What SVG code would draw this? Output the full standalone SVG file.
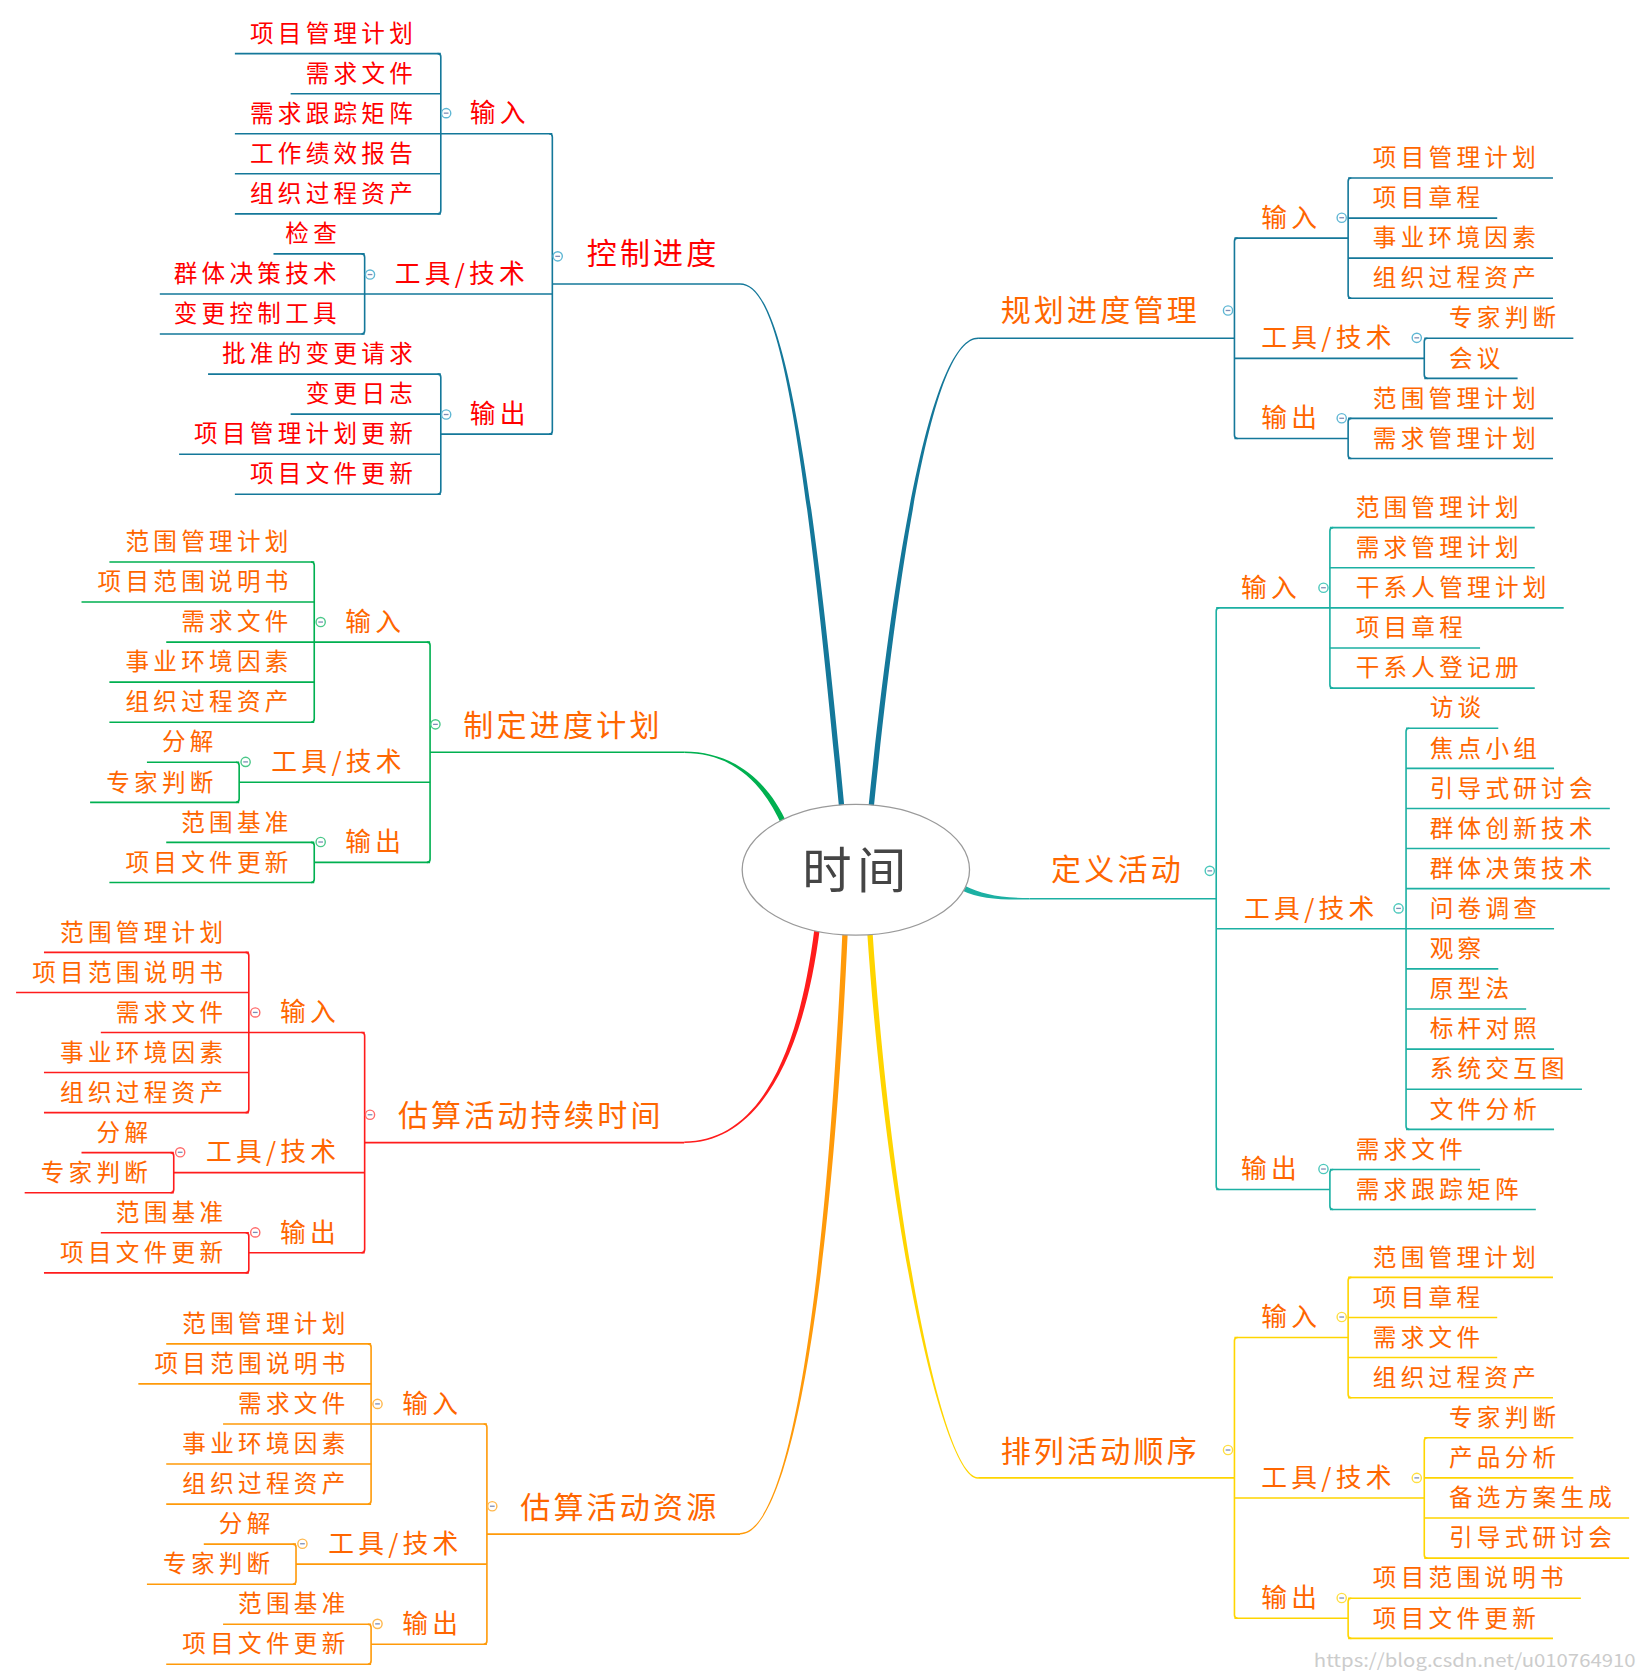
<svg xmlns="http://www.w3.org/2000/svg" width="1641" height="1676" viewBox="0 0 1641 1676">
<style>
text { font-family: "Noto Sans CJK SC", "Noto Sans CJK JP", sans-serif; }
.lf { font-size: 22px; letter-spacing: 4px; fill: #FF6600; }
.sb { font-size: 24px; letter-spacing: 4px; fill: #FF6600; }
.mn { font-size: 28px; letter-spacing: 3px; fill: #FF6600; }
.red { fill: #FF0000; }
.ln { fill: none; stroke-width: 1.5; }
.k1 { stroke: #14789A; }
.k3 { stroke: #00B050; }
.k4 { stroke: #1CB0A3; }
.k5 { stroke: #FF1C1C; }
.k6 { stroke: #FF9A0A; }
.k7 { stroke: #FFD500; }
</style>
<defs>
<g id="tg"><circle r="4.3" fill="#fff" stroke="currentColor" stroke-width="1.3"/><path d="M-2.2,0H2.2" stroke="#7D8DB5" stroke-width="1.2"/></g>
</defs>
<rect width="1641" height="1676" fill="#fff"/>
<g transform="scale(1.0725)">
<g id="connectors">
  <!-- main curves -->
  <path fill="#14789A" d="M690,264 C725,264 752.5,380 787.5,755 L782.5,755 C747.5,380 725,265.5 690,265.5 Z"/>
  <path fill="#14789A" d="M912,314.7 C880,314.7 842.5,430 809.5,755 L814.5,755 C847.5,430 880,316.2 912,316.2 Z"/>
  <path fill="#00B050" d="M638,700.7 C680,700.7 714.3,724 734.3,769 L729.7,771 C709.7,726 680,702.2 638,702.2 Z"/>
  <path fill="#1CB0A3" d="M960,837.3 C930,837.3 916.1,833.75 899.1,825.75 L896.9,830.25 C913.9,838.25 930,838.8 960,838.8 Z"/>
  <path fill="#FF1C1C" d="M638,1064.3 C700,1064.3 742.5,1000 759.5,865 L764.5,865 C747.5,1000 700,1065.8 638,1065.8 Z"/>
  <path fill="#FF9A0A" d="M690,1429.3 C735,1429.3 769.5,1220 785.5,868 L790.5,868 C774.5,1220 735,1430.8 690,1430.8 Z"/>
  <path fill="#FFD500" d="M912,1377.3 C880,1377.3 832.5,1150 813.5,868 L808.5,868 C827.5,1150 880,1378.8 912,1378.8 Z"/>

  <g id="c-b1" class="ln k1">
    <path d="M515,264.75 H690"/>
    <path d="M512,124.7 Q515,124.7 515,127.7 V401.8 Q515,404.8 512,404.8"/>
    <path d="M411,124.7 H515 M340,274.1 H515 M411,404.8 H515"/>
    <path d="M408,50 Q411,50 411,53 V196.4 Q411,199.4 408,199.4"/>
    <path d="M337,236.75 Q340,236.75 340,239.75 V308.45 Q340,311.45 337,311.45"/>
    <path d="M408,348.8 Q411,348.8 411,351.8 V457.85 Q411,460.85 408,460.85"/>
    <path d="M219,50 H411 M271,87.35 H411 M219,124.7 H411 M219,162.05 H411 M219,199.4 H411"/>
    <path d="M255,236.75 H340 M149,274.1 H340 M149,311.45 H340"/>
    <path d="M194,348.8 H411 M271,386.15 H411 M167,423.5 H411 M219,460.85 H411"/>
  </g>
  <g id="c-b2" class="ln k1">
    <path d="M912,315.4 H1151"/>
    <path d="M1154,222 Q1151,222 1151,225 V405.8 Q1151,408.8 1154,408.8"/>
    <path d="M1151,222 H1257 M1151,334.1 H1328 M1151,408.8 H1257"/>
    <path d="M1260,166 Q1257,166 1257,169 V275.05 Q1257,278.05 1260,278.05"/>
    <path d="M1331,315.4 Q1328,315.4 1328,318.4 V349.75 Q1328,352.75 1331,352.75"/>
    <path d="M1260,390.1 Q1257,390.1 1257,393.1 V424.45 Q1257,427.45 1260,427.45"/>
    <path d="M1257,166 H1448 M1257,203.35 H1396 M1257,240.7 H1448 M1257,278.05 H1448"/>
    <path d="M1328,315.4 H1467 M1328,352.75 H1415"/>
    <path d="M1257,390.1 H1448 M1257,427.45 H1448"/>
  </g>
  <g id="c-b3" class="ln k3">
    <path d="M401,701.4 H638"/>
    <path d="M398,598.7 Q401,598.7 401,601.7 V801.1 Q401,804.1 398,804.1"/>
    <path d="M293,598.7 H401 M223,729.4 H401 M293,804.1 H401"/>
    <path d="M290,524 Q293,524 293,527 V670.4 Q293,673.4 290,673.4"/>
    <path d="M220,710.75 Q223,710.75 223,713.75 V745.1 Q223,748.1 220,748.1"/>
    <path d="M290,785.45 Q293,785.45 293,788.45 V819.8 Q293,822.8 290,822.8"/>
    <path d="M102,524 H293 M76,561.35 H293 M155,598.7 H293 M102,636.05 H293 M102,673.4 H293"/>
    <path d="M137,710.75 H223 M84,748.1 H223"/>
    <path d="M155,785.45 H293 M102,822.8 H293"/>
  </g>
  <g id="c-b5" class="ln k5" transform="translate(-61,364)">
    <path d="M401,701.4 H699"/>
    <path d="M398,598.7 Q401,598.7 401,601.7 V801.1 Q401,804.1 398,804.1"/>
    <path d="M293,598.7 H401 M223,729.4 H401 M293,804.1 H401"/>
    <path d="M290,524 Q293,524 293,527 V670.4 Q293,673.4 290,673.4"/>
    <path d="M220,710.75 Q223,710.75 223,713.75 V745.1 Q223,748.1 220,748.1"/>
    <path d="M290,785.45 Q293,785.45 293,788.45 V819.8 Q293,822.8 290,822.8"/>
    <path d="M102,524 H293 M76,561.35 H293 M155,598.7 H293 M102,636.05 H293 M102,673.4 H293"/>
    <path d="M137,710.75 H223 M84,748.1 H223"/>
    <path d="M155,785.45 H293 M102,822.8 H293"/>
  </g>
  <g id="c-b6" class="ln k6" transform="translate(53,729)">
    <path d="M401,701.4 H637"/>
    <path d="M398,598.7 Q401,598.7 401,601.7 V801.1 Q401,804.1 398,804.1"/>
    <path d="M293,598.7 H401 M223,729.4 H401 M293,804.1 H401"/>
    <path d="M290,524 Q293,524 293,527 V670.4 Q293,673.4 290,673.4"/>
    <path d="M220,710.75 Q223,710.75 223,713.75 V745.1 Q223,748.1 220,748.1"/>
    <path d="M290,785.45 Q293,785.45 293,788.45 V819.8 Q293,822.8 290,822.8"/>
    <path d="M102,524 H293 M76,561.35 H293 M155,598.7 H293 M102,636.05 H293 M102,673.4 H293"/>
    <path d="M137,710.75 H223 M84,748.1 H223"/>
    <path d="M155,785.45 H293 M102,822.8 H293"/>
  </g>
  <g id="c-b4" class="ln k4">
    <path d="M960,838 H1134"/>
    <path d="M1137,566.8 Q1134,566.8 1134,569.8 V1106.1 Q1134,1109.1 1137,1109.1"/>
    <path d="M1134,566.8 H1240 M1134,866 H1311 M1134,1109.1 H1240"/>
    <path d="M1243,492 Q1240,492 1240,495 V638.6 Q1240,641.6 1243,641.6"/>
    <path d="M1314,679 Q1311,679 1311,682 V1050 Q1311,1053 1314,1053"/>
    <path d="M1243,1090.4 Q1240,1090.4 1240,1093.4 V1124.8 Q1240,1127.8 1243,1127.8"/>
    <path d="M1240,492 H1431 M1240,529.4 H1431 M1240,566.8 H1458 M1240,604.2 H1380 M1240,641.6 H1431"/>
    <path d="M1311,679 H1397 M1311,716.4 H1449 M1311,753.8 H1501 M1311,791.2 H1501 M1311,828.6 H1501 M1311,866 H1449 M1311,903.4 H1397 M1311,940.8 H1423 M1311,978.2 H1449 M1311,1015.6 H1475 M1311,1053 H1449"/>
    <path d="M1240,1090.4 H1380 M1240,1127.8 H1432"/>
  </g>
  <g id="c-b7" class="ln k7">
    <path d="M912,1378 H1151"/>
    <path d="M1154,1247.1 Q1151,1247.1 1151,1250.1 V1505.9 Q1151,1508.9 1154,1508.9"/>
    <path d="M1151,1247.1 H1257 M1151,1396.7 H1328 M1151,1508.9 H1257"/>
    <path d="M1260,1191 Q1257,1191 1257,1194 V1300.2 Q1257,1303.2 1260,1303.2"/>
    <path d="M1331,1340.6 Q1328,1340.6 1328,1343.6 V1449.8 Q1328,1452.8 1331,1452.8"/>
    <path d="M1260,1490.2 Q1257,1490.2 1257,1493.2 V1524.6 Q1257,1527.6 1260,1527.6"/>
    <path d="M1257,1191 H1448 M1257,1228.4 H1396 M1257,1265.8 H1396 M1257,1303.2 H1448"/>
    <path d="M1328,1340.6 H1467 M1328,1378 H1467 M1328,1415.4 H1519 M1328,1452.8 H1519"/>
    <path d="M1257,1490.2 H1474 M1257,1527.6 H1448"/>
  </g>
</g>

<g id="root">
  <ellipse cx="798" cy="811" rx="106" ry="61" fill="#fff" stroke="#9A9A9A" stroke-width="1.2"/>
  <text x="748" y="828" font-size="46" letter-spacing="5" fill="#454545">时间</text>
</g>

<!-- Branch 1: 控制进度 -->
<g id="b1">
  <g id="b1-main"><text class="mn red" x="547" y="246">控制进度</text><use href="#tg" x="520" y="239" style="color:#5FB7D4"/></g>
  <g id="b1-in"><text class="sb red" x="438" y="114.2">输入</text><use href="#tg" x="416" y="105.5" style="color:#5FB7D4"/></g>
  <g id="b1-tool"><text class="sb red" x="368" y="263.6">工具/技术</text><use href="#tg" x="345" y="256" style="color:#5FB7D4"/></g>
  <g id="b1-out"><text class="sb red" x="438" y="394.3">输出</text><use href="#tg" x="416" y="386.5" style="color:#5FB7D4"/></g>
  <g id="b1-leaves" class="lf red">
    <g id="b1-l1"><text class="lf red" x="233" y="39">项目管理计划</text></g>
    <g id="b1-l2"><text class="lf red" x="285" y="76.35">需求文件</text></g>
    <g id="b1-l3"><text class="lf red" x="233" y="113.7">需求跟踪矩阵</text></g>
    <g id="b1-l4"><text class="lf red" x="233" y="151">工作绩效报告</text></g>
    <g id="b1-l5"><text class="lf red" x="233" y="188.4">组织过程资产</text></g>
    <g id="b1-l6"><text class="lf red" x="266" y="225.75">检查</text></g>
    <g id="b1-l7"><text class="lf red" x="162" y="263.1">群体决策技术</text></g>
    <g id="b1-l8"><text class="lf red" x="162" y="300.45">变更控制工具</text></g>
    <g id="b1-l9"><text class="lf red" x="207" y="337.8">批准的变更请求</text></g>
    <g id="b1-l10"><text class="lf red" x="285" y="375.15">变更日志</text></g>
    <g id="b1-l11"><text class="lf red" x="181" y="412.5">项目管理计划更新</text></g>
    <g id="b1-l12"><text class="lf red" x="233" y="449.85">项目文件更新</text></g>
  </g>
</g>

<!-- Branch 2: 规划进度管理 -->
<g id="b2">
  <g id="b2-main"><text class="mn" x="933" y="299.4">规划进度管理</text><use href="#tg" x="1145" y="289.5" style="color:#5FB7D4"/></g>
  <g id="b2-in"><text class="sb" x="1176" y="211.5">输入</text><use href="#tg" x="1251" y="203" style="color:#5FB7D4"/></g>
  <g id="b2-tool"><text class="sb" x="1176" y="323.6">工具/技术</text><use href="#tg" x="1321" y="315" style="color:#5FB7D4"/></g>
  <g id="b2-out"><text class="sb" x="1176" y="398.3">输出</text><use href="#tg" x="1251" y="390" style="color:#5FB7D4"/></g>
  <g id="b2-l1"><text class="lf" x="1280" y="155">项目管理计划</text></g>
  <g id="b2-l2"><text class="lf" x="1280" y="192.35">项目章程</text></g>
  <g id="b2-l3"><text class="lf" x="1280" y="229.7">事业环境因素</text></g>
  <g id="b2-l4"><text class="lf" x="1280" y="267.05">组织过程资产</text></g>
  <g id="b2-l5"><text class="lf" x="1351" y="304.4">专家判断</text></g>
  <g id="b2-l6"><text class="lf" x="1351" y="341.75">会议</text></g>
  <g id="b2-l7"><text class="lf" x="1280" y="379.1">范围管理计划</text></g>
  <g id="b2-l8"><text class="lf" x="1280" y="416.45">需求管理计划</text></g>
</g>

<!-- Branch 3: 制定进度计划 -->
<g id="b3">
  <g id="b3-main"><text class="mn" x="432" y="686">制定进度计划</text><use href="#tg" x="406" y="675.4" style="color:#4CC88A"/></g>
  <g id="b3-in"><text class="sb" x="322" y="588.2">输入</text><use href="#tg" x="299" y="580" style="color:#4CC88A"/></g>
  <g id="b3-tool"><text class="sb" x="253" y="718.9">工具/技术</text><use href="#tg" x="229" y="710.4" style="color:#4CC88A"/></g>
  <g id="b3-out"><text class="sb" x="322" y="793.6">输出</text><use href="#tg" x="299" y="785.1" style="color:#4CC88A"/></g>
  <g id="b3-l1"><text class="lf" x="117" y="513">范围管理计划</text></g>
  <g id="b3-l2"><text class="lf" x="91" y="550.35">项目范围说明书</text></g>
  <g id="b3-l3"><text class="lf" x="169" y="587.7">需求文件</text></g>
  <g id="b3-l4"><text class="lf" x="117" y="625.05">事业环境因素</text></g>
  <g id="b3-l5"><text class="lf" x="117" y="662.4">组织过程资产</text></g>
  <g id="b3-l6"><text class="lf" x="151" y="699.75">分解</text></g>
  <g id="b3-l7"><text class="lf" x="99" y="737.1">专家判断</text></g>
  <g id="b3-l8"><text class="lf" x="169" y="774.45">范围基准</text></g>
  <g id="b3-l9"><text class="lf" x="117" y="811.8">项目文件更新</text></g>
</g>

<!-- Branch 5: 估算活动持续时间 -->
<g id="b5" transform="translate(-61,364)">
  <g id="b5-main"><text class="mn" x="432" y="686">估算活动持续时间</text><use href="#tg" x="406" y="675.4" style="color:#FF6B6B"/></g>
  <g id="b5-in"><text class="sb" x="322" y="588.2">输入</text><use href="#tg" x="299" y="580" style="color:#FF6B6B"/></g>
  <g id="b5-tool"><text class="sb" x="253" y="718.9">工具/技术</text><use href="#tg" x="229" y="710.4" style="color:#FF6B6B"/></g>
  <g id="b5-out"><text class="sb" x="322" y="793.6">输出</text><use href="#tg" x="299" y="785.1" style="color:#FF6B6B"/></g>
  <g id="b5-l1"><text class="lf" x="117" y="513">范围管理计划</text></g>
  <g id="b5-l2"><text class="lf" x="91" y="550.35">项目范围说明书</text></g>
  <g id="b5-l3"><text class="lf" x="169" y="587.7">需求文件</text></g>
  <g id="b5-l4"><text class="lf" x="117" y="625.05">事业环境因素</text></g>
  <g id="b5-l5"><text class="lf" x="117" y="662.4">组织过程资产</text></g>
  <g id="b5-l6"><text class="lf" x="151" y="699.75">分解</text></g>
  <g id="b5-l7"><text class="lf" x="99" y="737.1">专家判断</text></g>
  <g id="b5-l8"><text class="lf" x="169" y="774.45">范围基准</text></g>
  <g id="b5-l9"><text class="lf" x="117" y="811.8">项目文件更新</text></g>
</g>

<!-- Branch 6: 估算活动资源 -->
<g id="b6" transform="translate(53,729)">
  <g id="b6-main"><text class="mn" x="432" y="686">估算活动资源</text><use href="#tg" x="406" y="675.4" style="color:#FFB84D"/></g>
  <g id="b6-in"><text class="sb" x="322" y="588.2">输入</text><use href="#tg" x="299" y="580" style="color:#FFB84D"/></g>
  <g id="b6-tool"><text class="sb" x="253" y="718.9">工具/技术</text><use href="#tg" x="229" y="710.4" style="color:#FFB84D"/></g>
  <g id="b6-out"><text class="sb" x="322" y="793.6">输出</text><use href="#tg" x="299" y="785.1" style="color:#FFB84D"/></g>
  <g id="b6-l1"><text class="lf" x="117" y="513">范围管理计划</text></g>
  <g id="b6-l2"><text class="lf" x="91" y="550.35">项目范围说明书</text></g>
  <g id="b6-l3"><text class="lf" x="169" y="587.7">需求文件</text></g>
  <g id="b6-l4"><text class="lf" x="117" y="625.05">事业环境因素</text></g>
  <g id="b6-l5"><text class="lf" x="117" y="662.4">组织过程资产</text></g>
  <g id="b6-l6"><text class="lf" x="151" y="699.75">分解</text></g>
  <g id="b6-l7"><text class="lf" x="99" y="737.1">专家判断</text></g>
  <g id="b6-l8"><text class="lf" x="169" y="774.45">范围基准</text></g>
  <g id="b6-l9"><text class="lf" x="117" y="811.8">项目文件更新</text></g>
</g>

<!-- Branch 4: 定义活动 -->
<g id="b4">
  <g id="b4-main"><text class="mn" x="980" y="820.4">定义活动</text><use href="#tg" x="1128" y="812" style="color:#4CC8BC"/></g>
  <g id="b4-in"><text class="sb" x="1157" y="556.3">输入</text><use href="#tg" x="1234" y="548" style="color:#4CC8BC"/></g>
  <g id="b4-tool"><text class="sb" x="1160" y="855.5">工具/技术</text><use href="#tg" x="1304" y="847" style="color:#4CC8BC"/></g>
  <g id="b4-out"><text class="sb" x="1157" y="1098.6">输出</text><use href="#tg" x="1234" y="1090" style="color:#4CC8BC"/></g>
  <g id="b4-l1"><text class="lf" x="1264" y="481">范围管理计划</text></g>
  <g id="b4-l2"><text class="lf" x="1264" y="518.4">需求管理计划</text></g>
  <g id="b4-l3"><text class="lf" x="1264" y="555.8">干系人管理计划</text></g>
  <g id="b4-l4"><text class="lf" x="1264" y="593.2">项目章程</text></g>
  <g id="b4-l5"><text class="lf" x="1264" y="630.6">干系人登记册</text></g>
  <g id="b4-l6"><text class="lf" x="1333" y="668">访谈</text></g>
  <g id="b4-l7"><text class="lf" x="1333" y="705.4">焦点小组</text></g>
  <g id="b4-l8"><text class="lf" x="1333" y="742.8">引导式研讨会</text></g>
  <g id="b4-l9"><text class="lf" x="1333" y="780.2">群体创新技术</text></g>
  <g id="b4-l10"><text class="lf" x="1333" y="817.6">群体决策技术</text></g>
  <g id="b4-l11"><text class="lf" x="1333" y="855">问卷调查</text></g>
  <g id="b4-l12"><text class="lf" x="1333" y="892.4">观察</text></g>
  <g id="b4-l13"><text class="lf" x="1333" y="929.8">原型法</text></g>
  <g id="b4-l14"><text class="lf" x="1333" y="967.2">标杆对照</text></g>
  <g id="b4-l15"><text class="lf" x="1333" y="1004.6">系统交互图</text></g>
  <g id="b4-l16"><text class="lf" x="1333" y="1042">文件分析</text></g>
  <g id="b4-l17"><text class="lf" x="1264" y="1079.4">需求文件</text></g>
  <g id="b4-l18"><text class="lf" x="1264" y="1116.8">需求跟踪矩阵</text></g>
</g>

<!-- Branch 7: 排列活动顺序 -->
<g id="b7">
  <g id="b7-main"><text class="mn" x="933" y="1363">排列活动顺序</text><use href="#tg" x="1145" y="1352" style="color:#FFDF40"/></g>
  <g id="b7-in"><text class="sb" x="1176" y="1236.6">输入</text><use href="#tg" x="1251" y="1228" style="color:#FFDF40"/></g>
  <g id="b7-tool"><text class="sb" x="1176" y="1386.2">工具/技术</text><use href="#tg" x="1321" y="1378" style="color:#FFDF40"/></g>
  <g id="b7-out"><text class="sb" x="1176" y="1498.4">输出</text><use href="#tg" x="1251" y="1490" style="color:#FFDF40"/></g>
  <g id="b7-l1"><text class="lf" x="1280" y="1180">范围管理计划</text></g>
  <g id="b7-l2"><text class="lf" x="1280" y="1217.4">项目章程</text></g>
  <g id="b7-l3"><text class="lf" x="1280" y="1254.8">需求文件</text></g>
  <g id="b7-l4"><text class="lf" x="1280" y="1292.2">组织过程资产</text></g>
  <g id="b7-l5"><text class="lf" x="1351" y="1329.6">专家判断</text></g>
  <g id="b7-l6"><text class="lf" x="1351" y="1367">产品分析</text></g>
  <g id="b7-l7"><text class="lf" x="1351" y="1404.4">备选方案生成</text></g>
  <g id="b7-l8"><text class="lf" x="1351" y="1441.8">引导式研讨会</text></g>
  <g id="b7-l9"><text class="lf" x="1280" y="1479.2">项目范围说明书</text></g>
  <g id="b7-l10"><text class="lf" x="1280" y="1516.6">项目文件更新</text></g>
</g>

<text x="1225" y="1554" font-family="Liberation Serif, serif" font-size="17" fill="#CCCCCC" textLength="300" lengthAdjust="spacingAndGlyphs">https://blog.csdn.net/u010764910</text>
</g>
</svg>
